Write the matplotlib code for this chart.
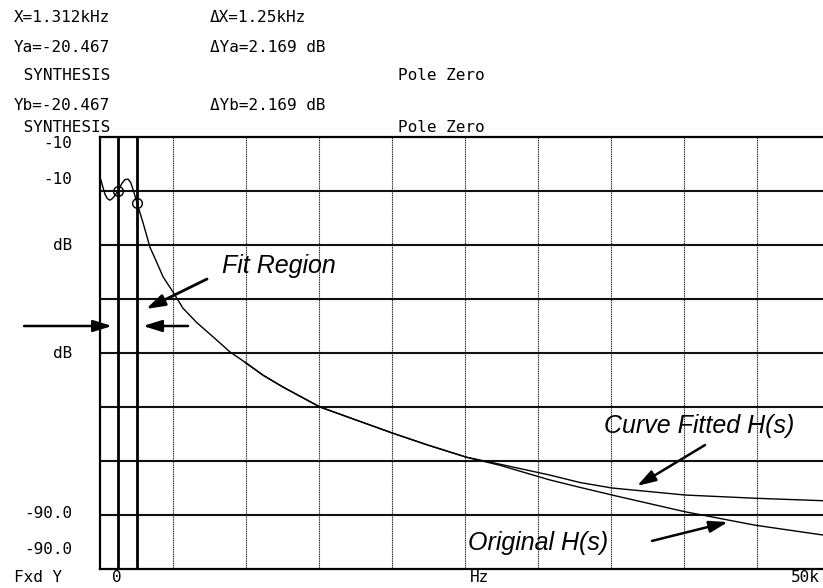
import matplotlib
matplotlib.use("Agg")
import matplotlib.pyplot as plt

# ---------------- data (kHz, dB) ----------------
orig_f = [0, 0.17, 0.34, 0.5, 0.68, 0.85, 1.0, 1.23, 1.5, 1.7, 1.92, 2.1, 2.3,
          2.53, 2.95, 3.42, 3.9, 4.32, 5.0, 5.68, 6.64, 7.74, 8.9, 9.93, 11.16,
          12.53, 13.9, 15.07, 17.12, 20.0, 22.4, 25.1, 27.4, 30.8, 32.9, 35.07,
          40.07, 44.9, 49.5, 50.0]
orig_db = [-17.4, -19.0, -20.6, -21.4, -21.7, -21.4, -20.9, -20.0, -18.6, -17.9,
           -17.8, -18.4, -20.0, -22.2, -25.9, -30.4, -33.3, -35.9, -38.7, -41.7,
           -44.4, -47.0, -49.8, -51.7, -54.1, -56.3, -58.3, -60.0, -62.0, -64.8,
           -67.0, -69.3, -70.8, -73.5, -74.9, -76.3, -79.4, -81.9, -83.7, -83.9]
fit_f = [9.93, 11.16, 12.53, 13.9, 15.07, 17.12, 20.0, 22.4, 25.1, 27.4, 30.8,
         32.9, 35.07, 40.07, 44.9, 50.0]
fit_db = [-51.7, -54.1, -56.3, -58.3, -60.0, -62.0, -64.8, -67.0, -69.3, -70.6,
          -72.6, -74.0, -75.0, -76.3, -76.9, -77.4]
marker_f = [1.23, 2.53]
marker_db = [-20.0, -22.2]
fit_lines = [1.25, 2.5]

header_rows = [
    ("X=1.312kHz", "ΔX=1.25kHz", ""),
    ("Ya=-20.467", "ΔYa=2.169 dB", ""),
    (" SYNTHESIS", "", "Pole Zero"),
    ("Yb=-20.467", "ΔYb=2.169 dB", ""),
    (" SYNTHESIS", "", "Pole Zero"),
]
y_labels = [("-10", 143), ("-10", 180), ("dB", 245), ("dB", 353), ("-90.0", 513), ("-90.0", 549)]

W, H = 823, 588
fig = plt.figure(figsize=(W / 100, H / 100), dpi=100)
fig.patch.set_facecolor("white")

def fx(px):
    return px / W

def fy(py):
    return 1 - py / H

ax = fig.add_axes([fx(100), fy(569), 730 / W, 432 / H])
ax.set_xlim(0, 50)
ax.set_ylim(-90, -10)
ax.set_xticks([])
ax.set_yticks([])
for s in ax.spines.values():
    s.set_linewidth(1.6)
    s.set_color("black")

# grid
for k in range(1, 10):
    ax.axvline(k * 5, color="#222222", lw=0.8, ls=(0, (1, 0.6)), zorder=1)
for v in range(-80, -10, 10):
    ax.axhline(v, color="#111111", lw=1.5, zorder=1)

# fit region lines
for f in fit_lines:
    ax.axvline(f, color="black", lw=2.0, zorder=2)

ax.plot(orig_f, orig_db, color="black", lw=1.0, zorder=3)
ax.plot(fit_f, fit_db, color="black", lw=1.0, zorder=3)
ax.plot(marker_f, marker_db, ls="none", marker="o", ms=7, mfc="none",
        mec="black", mew=1.0, zorder=4)

# annotations
txt_kw = dict(fontfamily="Liberation Sans", style="italic", fontsize=18,
              va="center", ha="left", color="black")
ax.text(8.36, -33.9, "Fit Region", **txt_kw)
ax.text(34.5, -63.5, "Curve Fitted H(s)", **txt_kw)
ax.text(25.2, -85.2, "Original H(s)", **txt_kw)

def arrow(x0, y0, x1, y1, lw=1.8, ms=14):
    ax.annotate("", xy=(x1, y1), xytext=(x0, y0), annotation_clip=False,
                arrowprops=dict(arrowstyle="-|>,head_length=0.8,head_width=0.25",
                                color="black", lw=lw, mutation_scale=ms,
                                shrinkA=0, shrinkB=0), zorder=5)

arrow(7.33, -36.3, 3.15, -41.85, lw=2.0)
arrow(-5.2, -45.0, 0.82, -45.0)
arrow(6.03, -45.0, 2.95, -45.0)
arrow(41.44, -67.04, 36.78, -74.63)
arrow(37.81, -84.8, 43.01, -81.3)

# header text
hdr_kw = dict(fontfamily="DejaVu Sans Mono", fontsize=11.5, va="center",
              ha="left", color="black")
row_y = [18, 47, 76, 105, 127]
for (a, b, c), py in zip(header_rows, row_y):
    if a:
        fig.text(fx(14), fy(py), a, **hdr_kw)
    if b:
        fig.text(fx(210), fy(py), b, **hdr_kw)
    if c:
        fig.text(fx(398), fy(py), c, **hdr_kw)

for lab, py in y_labels:
    fig.text(fx(72), fy(py), lab, fontfamily="DejaVu Sans Mono", fontsize=11.5,
             va="center", ha="right", color="black")

fig.text(fx(14), fy(578), "Fxd Y", **hdr_kw)
fig.text(fx(117), fy(578), "0", fontfamily="DejaVu Sans Mono", fontsize=11.5,
         va="center", ha="center")
fig.text(fx(480), fy(578), "Hz", fontfamily="DejaVu Sans Mono", fontsize=11.5,
         va="center", ha="center")
fig.text(fx(820), fy(578), "50k", fontfamily="DejaVu Sans Mono", fontsize=11.5,
         va="center", ha="right")

fig.savefig("out.png", dpi=100, facecolor="white")
